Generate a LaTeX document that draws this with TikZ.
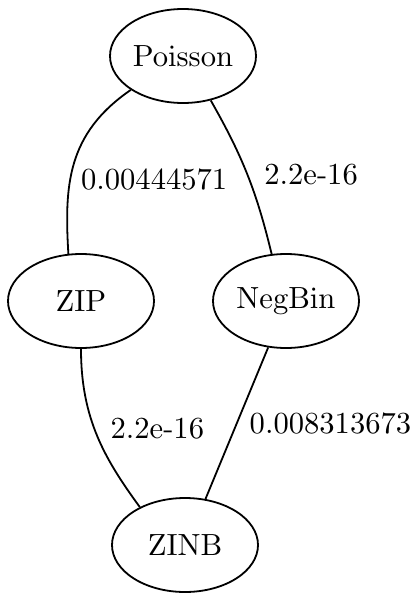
\documentclass[tikz,border=0pt]{standalone}
\usepackage{tikz}
\usetikzlibrary{shapes.geometric,positioning}

\font\modelfont=cmr10 at 15.3pt

\tikzset{
  model/.style={ellipse, draw, line width=0.9pt, minimum width=73pt, minimum height=47pt, inner sep=0pt, font=\modelfont},
  weight/.style={inner sep=0pt, font=\modelfont},
  link/.style={line width=0.9pt}
}

\begin{document}
\begin{tikzpicture}[on grid]
    \useasboundingbox (0,0) rectangle (207pt,-297pt);
    \node[model] (poisson) at (91.5pt,-28pt) {Poisson};
    \node[model] (zip) [below left=122.5pt and 51pt of poisson] {ZIP};
    \node[model] (negbin) [below right=122.5pt and 51.5pt of poisson] {NegBin};
    \node[model] (zinb) [below right=122pt and 52pt of zip] {ZINB};

    \draw[link] (poisson.213) .. controls +(-32pt,-22pt) and +(-2pt,34pt) .. node[weight, pos=0.6, right=5pt] {0.00444571} (zip.105);
    \draw[link] (poisson.302) to[bend left=8] node[weight, pos=0.5, right=8pt] {2.2e-16} (negbin.107);
    \draw[link] (zip.270) .. controls +(0,-35pt) and +(-17.5pt,24pt) .. node[weight, pos=0.45, right=7.7pt] {2.2e-16} (zinb.140);
    \draw[link] (negbin.249) -- node[weight, pos=0.5, right=6pt] {0.008313673} (zinb.66);
\end{tikzpicture}
\end{document}
